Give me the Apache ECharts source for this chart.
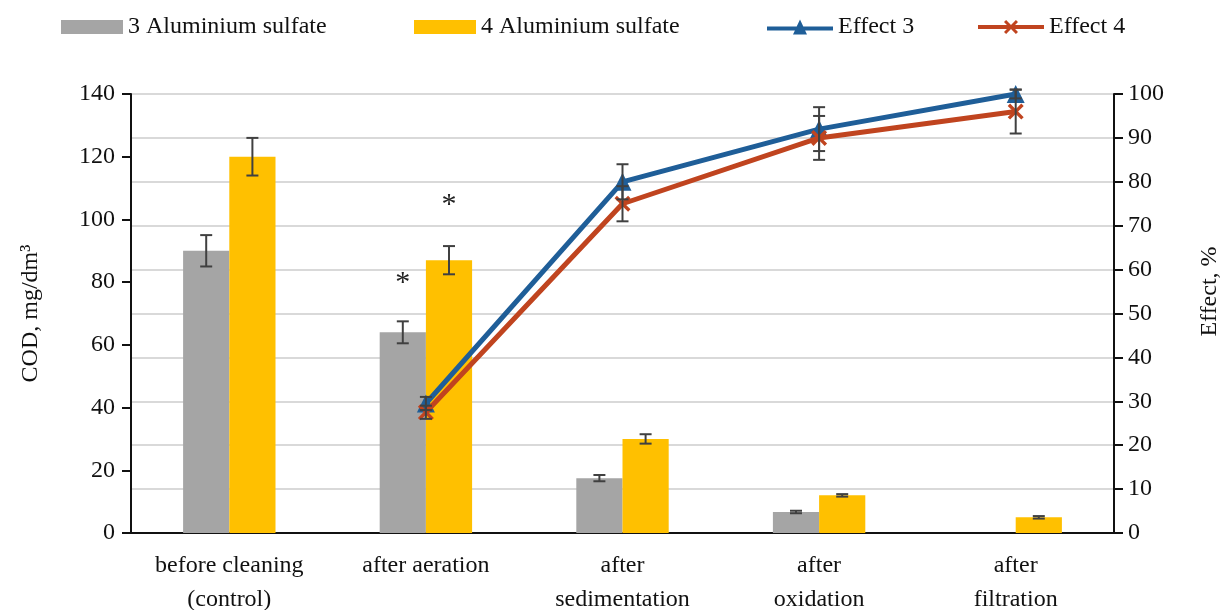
<!DOCTYPE html>
<html><head><meta charset="utf-8">
<script src="https://cdn.jsdelivr.net/npm/echarts@6/dist/echarts.min.js"></script>
<style>html,body{margin:0;padding:0;background:#fff}#c{width:1224px;height:610px}</style>
</head><body><div id="c"></div>
<script>
const categories = ['before cleaning\n(control)', 'after aeration', 'after\nsedimentation', 'after\noxidation', 'after\nfiltration'];
const cod3 = [90, 64, 17.5, 6.7, 0];
const cod3Err = [5, 3.5, 1, 0.4, 0];
const cod4 = [120, 87, 30, 12, 5];
const cod4Err = [6, 4.5, 1.5, 0.4, 0.4];
const effect3 = [null, 29.5, 80, 92, 100];
const effect3Err = [null, 1.5, 4, 5, 1];
const effect4 = [null, 27.5, 75, 90, 96];
const effect4Err = [null, 1.5, 4, 5, 5];
const asterisks3 = ['', '*', '', '', ''];
const asterisks4 = ['', '*', '', '', ''];
const leftTicks = [0, 20, 40, 60, 80, 100, 120, 140];
const rightTicks = [0, 10, 20, 30, 40, 50, 60, 70, 80, 90, 100];

const FONT = 'Liberation Serif';
const BW = 0.235;
function errRender(offsetFrac) {
  return function (params, api) {
    const x = api.value(0), v = api.value(1), e = api.value(2);
    if (v == null || isNaN(v) || !e) return;
    const band = api.size([1, 0])[0];
    const off = offsetFrac * band;
    const top = api.coord([x, v + e]);
    const bot = api.coord([x, v - e]);
    const cx = top[0] + off;
    const cap = 6;
    const style = { stroke: '#404040', lineWidth: 2 };
    return { type: 'group', children: [
      { type: 'line', shape: { x1: cx, y1: top[1], x2: cx, y2: bot[1] }, style },
      { type: 'line', shape: { x1: cx - cap, y1: top[1], x2: cx + cap, y2: top[1] }, style },
      { type: 'line', shape: { x1: cx - cap, y1: bot[1], x2: cx + cap, y2: bot[1] }, style }
    ]};
  };
}
function errData(vals, errs) { return vals.map((v, i) => [i, v, errs[i]]); }

const chart = echarts.init(document.getElementById('c'));
const xSym = 'path://M0,1.5L1.5,0L5,3.5L8.5,0L10,1.5L6.5,5L10,8.5L8.5,10L5,6.5L1.5,10L0,8.5L3.5,5Z';
const triIcon = 'path://M0,7L29.7,7L33,0L36.3,7L66,7L66,11L38.1,11L40,15L26,15L27.9,11L0,11Z';
const xIcon = 'path://M0,6L66,6L66,10L0,10Z M26,3.1L28.1,1L33,5.9L37.9,1L40,3.1L35.1,8L40,12.9L37.9,15L33,10.1L28.1,15L26,12.9L30.9,8Z';
const legendText = { fontFamily: FONT, fontSize: 24, color: '#111' };
chart.setOption({
  animation: false,
  textStyle: { fontFamily: FONT },
  legend: [
    { data: [{ name: '3 Aluminium sulfate', icon: 'rect' }], left: 56, top: 10, itemWidth: 62, itemHeight: 14, textStyle: legendText },
    { data: [{ name: '4 Aluminium sulfate', icon: 'rect' }], left: 409, top: 10, itemWidth: 62, itemHeight: 14, textStyle: legendText },
    { data: [{ name: 'Effect 3', icon: triIcon }], left: 762, top: 10, itemWidth: 66, itemHeight: 16, textStyle: legendText },
    { data: [{ name: 'Effect 4', icon: xIcon }], left: 973, top: 10, itemWidth: 66, itemHeight: 16, textStyle: legendText }
  ],
  grid: { left: 131, right: 110, top: 94, bottom: 77, containLabel: false, outerBoundsMode: 'none' },
  xAxis: {
    type: 'category', data: categories,
    axisLine: { lineStyle: { color: '#111', width: 2 } },
    axisTick: { show: false },
    axisLabel: { fontFamily: FONT, fontSize: 24, color: '#111', margin: 16, lineHeight: 34, interval: 0 }
  },
  yAxis: [
    { type: 'value', min: 0, max: 140, interval: 20, position: 'left',
      name: 'COD, mg/dm³', nameLocation: 'middle', nameGap: 88, nameRotate: 90,
      nameTextStyle: { fontFamily: FONT, fontSize: 24, color: '#111' },
      axisLine: { show: true, lineStyle: { color: '#111', width: 2 } },
      axisTick: { show: true, length: 9, lineStyle: { color: '#111', width: 2 } },
      axisLabel: { fontFamily: FONT, fontSize: 24, color: '#111', margin: 16,
        formatter: v => leftTicks.includes(v) ? String(v) : '' },
      splitLine: { show: false } },
    { type: 'value', min: 0, max: 100, interval: 10, position: 'right',
      name: 'Effect, %', nameLocation: 'middle', nameGap: 84, nameRotate: 90,
      nameTextStyle: { fontFamily: FONT, fontSize: 24, color: '#111', padding: [0, 0, 0, 44] },
      axisLine: { show: true, lineStyle: { color: '#111', width: 2 } },
      axisTick: { show: true, length: 9, lineStyle: { color: '#111', width: 2 } },
      axisLabel: { fontFamily: FONT, fontSize: 24, color: '#111', margin: 14,
        formatter: v => rightTicks.includes(v) ? String(v) : '' },
      splitLine: { show: true, lineStyle: { color: '#d9d9d9', width: 2 } } }
  ],
  series: [
    { name: '3 Aluminium sulfate', type: 'bar', data: cod3, barWidth: (BW * 100) + '%', barGap: '0%',
      itemStyle: { color: '#a5a5a5' },
      label: { show: true, position: 'top', distance: 34, fontSize: 30, color: '#222',
        formatter: p => asterisks3[p.dataIndex] } },
    { name: '4 Aluminium sulfate', type: 'bar', data: cod4, barWidth: (BW * 100) + '%',
      itemStyle: { color: '#ffc000' },
      label: { show: true, position: 'top', distance: 40, fontSize: 30, color: '#222',
        formatter: p => asterisks4[p.dataIndex] } },
    { name: 'err3', type: 'custom', data: errData(cod3, cod3Err), renderItem: errRender(-BW / 2), z: 5 },
    { name: 'err4', type: 'custom', data: errData(cod4, cod4Err), renderItem: errRender(BW / 2), z: 5 },
    { name: 'Effect 3', type: 'line', yAxisIndex: 1, data: effect3, symbol: 'triangle', symbolSize: 18,
      lineStyle: { color: '#1f5e98', width: 5 }, itemStyle: { color: '#1f5e98' }, z: 6 },
    { name: 'Effect 4', type: 'line', yAxisIndex: 1, data: effect4, symbol: xSym, symbolSize: 16,
      lineStyle: { color: '#c0441f', width: 5 }, itemStyle: { color: '#c0441f' }, z: 7 },
    { name: 'errE3', type: 'custom', yAxisIndex: 1, data: errData(effect3, effect3Err), renderItem: errRender(0), z: 8 },
    { name: 'errE4', type: 'custom', yAxisIndex: 1, data: errData(effect4, effect4Err), renderItem: errRender(0), z: 8 }
  ]
});
</script></body></html>
